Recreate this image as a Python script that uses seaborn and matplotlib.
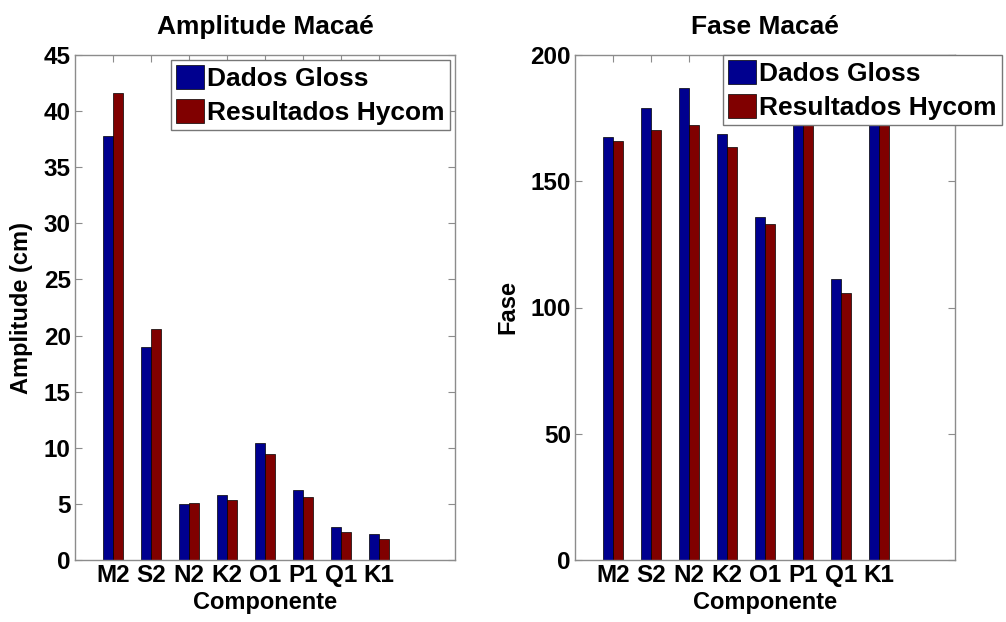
import pandas as pd
import matplotlib
matplotlib.use("Agg")
import matplotlib.pyplot as plt
import seaborn as sns

sns.set_style("ticks")
plt.rcParams["font.family"] = ["Liberation Sans", "DejaVu Sans"]
plt.rcParams["font.weight"] = "bold"
plt.rcParams["text.color"] = "black"
plt.rcParams["axes.labelcolor"] = "black"
plt.rcParams["xtick.labelcolor"] = "black"
plt.rcParams["ytick.labelcolor"] = "black"

componentes = ["M2", "S2", "N2", "K2", "O1", "P1", "Q1", "K1"]
series = ["Dados Gloss", "Resultados Hycom"]

amp_gloss = [37.8, 19.0, 5.0, 5.8, 10.4, 6.2, 2.9, 2.3]
amp_hycom = [41.6, 20.6, 5.1, 5.35, 9.45, 5.6, 2.5, 1.9]

fase_gloss = [167.6, 178.9, 186.8, 168.6, 136.0, 215.0, 111.3, 220.0]
fase_hycom = [165.9, 170.3, 172.3, 163.7, 132.9, 212.0, 105.6, 218.0]

cores = ["#00008f", "#800000"]

amp = pd.DataFrame({
    "Componente": componentes * 2,
    "Valor": amp_gloss + amp_hycom,
    "Serie": [series[0]] * 8 + [series[1]] * 8,
})
fase = pd.DataFrame({
    "Componente": componentes * 2,
    "Valor": fase_gloss + fase_hycom,
    "Serie": [series[0]] * 8 + [series[1]] * 8,
})

W, H = 1006, 622
fig = plt.figure(figsize=(W / 100, H / 100), dpi=100)
ax1 = fig.add_axes([75 / W, (H - 560) / H, 380 / W, 505 / H])
ax2 = fig.add_axes([575 / W, (H - 560) / H, 380 / W, 505 / H])


def painel(ax, df, titulo, ylabel, ymax, ystep, leg_x, leg_y):
    sns.barplot(data=df, x="Componente", y="Valor", hue="Serie", palette=cores,
                width=0.55, edgecolor="black", linewidth=0.5, saturation=1,
                ax=ax)
    ax.set_xlim(-1, 9)
    ax.set_ylim(0, ymax)
    ax.set_yticks(range(0, ymax + 1, ystep))
    ax.set_title(titulo, fontsize=19, fontweight="bold", pad=15, color="black")
    ax.set_xlabel("Componente", fontsize=17, fontweight="bold", labelpad=3)
    ax.set_ylabel(ylabel, fontsize=17, fontweight="bold", labelpad=8)
    ax.tick_params(direction="in", length=5, color="#8c8c8c", labelsize=17.5,
                   top=True, right=True, pad=3)
    for lab in ax.get_xticklabels() + ax.get_yticklabels():
        lab.set_fontweight("bold")
    for sp in ax.spines.values():
        sp.set_visible(True)
        sp.set_color("#8c8c8c")
        sp.set_linewidth(1)
    leg = ax.legend(loc="upper left", bbox_to_anchor=(leg_x, leg_y),
                    borderaxespad=0, fontsize=19, frameon=True, fancybox=False,
                    framealpha=1, edgecolor="#777777", handlelength=1.05,
                    handleheight=1.0, handletextpad=0.12, labelspacing=0.3,
                    borderpad=0.2)
    leg.get_frame().set_linewidth(1)
    for t in leg.get_texts():
        t.set_fontweight("bold")
        t.set_color("black")


painel(ax1, amp, "Amplitude Macaé", "Amplitude (cm)", 45, 5, 0.253, 0.99)
painel(ax2, fase, "Fase Macaé", "Fase", 200, 50, 0.389, 1.0)

fig.savefig("out.png", dpi=100)
